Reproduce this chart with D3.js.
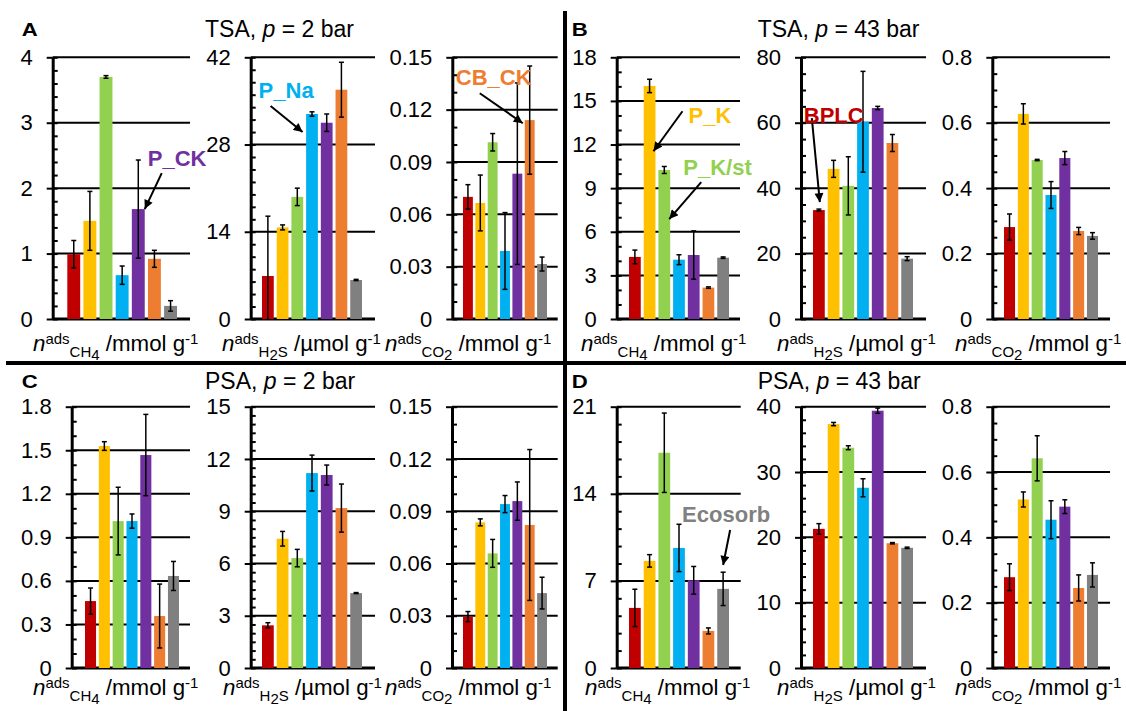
<!DOCTYPE html>
<html>
<head>
<meta charset="utf-8">
<script src="https://cdn.jsdelivr.net/npm/d3@7"></script>
<style>
  body { margin: 0; background: #fff; }
  svg { display: block; font-family: "Liberation Sans", Arial, sans-serif; }
  text { white-space: pre; }
</style>
</head>
<body>
<div id="chart"></div>
<script>
// ---- data ----
const materials = ["BPLC", "P_K", "P_K/st", "P_Na", "P_CK", "CB_CK", "Ecosorb"];
const colors = ["#c00000", "#ffc000", "#92d050", "#00b0f0", "#7030a0", "#ed7d31", "#808080"];

// TSA, p = 2 bar
const tsa2CH4 = [0.99, 1.50, 3.70, 0.67, 1.68, 0.92, 0.20];
const tsa2CH4Err = [0.21, 0.45, 0.02, 0.14, 0.75, 0.13, 0.08];
const tsa2H2S = [6.9, 14.7, 19.6, 32.9, 31.5, 36.8, 6.26];
const tsa2H2SErr = [9.6, 0.4, 1.4, 0.35, 1.4, 4.4, 0.1];
const tsa2CO2 = [0.070, 0.0665, 0.1013, 0.039, 0.0833, 0.114, 0.0315];
const tsa2CO2Err = [0.007, 0.016, 0.005, 0.022, 0.052, 0.031, 0.004];

// TSA, p = 43 bar
const tsa43CH4 = [4.27, 16.03, 10.25, 4.08, 4.40, 2.16, 4.22];
const tsa43CH4Err = [0.47, 0.46, 0.24, 0.34, 1.66, 0.05, 0.05];
const tsa43H2S = [33.3, 45.9, 40.7, 60.3, 64.5, 53.8, 18.45];
const tsa43H2SErr = [0.3, 2.6, 8.9, 15.4, 0.5, 2.6, 0.6];
const tsa43CO2 = [0.281, 0.627, 0.486, 0.379, 0.492, 0.269, 0.254];
const tsa43CO2Err = [0.04, 0.031, 0.002, 0.041, 0.02, 0.011, 0.01];

// PSA, p = 2 bar
const psa2CH4 = [0.461, 1.529, 1.012, 1.012, 1.467, 0.358, 0.634];
const psa2CH4Err = [0.09, 0.03, 0.233, 0.049, 0.28, 0.22, 0.1];
const psa2H2S = [2.45, 7.42, 6.31, 11.19, 11.08, 9.18, 4.30];
const psa2H2SErr = [0.15, 0.42, 0.5, 1.03, 0.57, 1.38, 0.03];
const psa2CO2 = [0.0295, 0.0836, 0.0658, 0.0941, 0.0958, 0.0821, 0.043];
const psa2CO2Err = [0.0029, 0.002, 0.008, 0.0049, 0.011, 0.0433, 0.0091];

// PSA, p = 43 bar
const psa43CH4 = [4.83, 8.61, 17.3, 9.65, 7.05, 2.98, 6.36];
const psa43CH4Err = [1.5, 0.5, 3.19, 1.9, 1.11, 0.24, 1.34];
const psa43H2S = [21.3, 37.34, 33.72, 27.59, 39.39, 19.1, 18.4];
const psa43H2SErr = [0.8, 0.25, 0.3, 1.38, 0.4, 0.1, 0.1];
const psa43CO2 = [0.278, 0.516, 0.642, 0.454, 0.494, 0.245, 0.285];
const psa43CO2Err = [0.041, 0.023, 0.069, 0.058, 0.021, 0.04, 0.037];

// y axes: [max, major step, minor step]
const tsa2Axes = [[4, 1, 0.2], [42, 14, 2], [0.15, 0.03, 0.01]];
const tsa43Axes = [[18, 3, 1], [80, 20, 5], [0.8, 0.2, 0.05]];
const psa2Axes = [[1.8, 0.3, 0.1], [15, 3, 0.5], [0.15, 0.03, 0.01]];
const psa43Axes = [[21, 7, 1.4], [40, 10, 2], [0.8, 0.2, 0.05]];

// ---- layout ----
const width = 1126, height = 711;
const font = 22, labelFont = 22.3, small = 15;
const rowY = {
  top: { y0: 319, y1: 57.3, labelY: 351, headY: 37 },
  bottom: { y0: 668, y1: 406.7, labelY: 695, headY: 389 }
};
// axisX, gridEnd, barStart, barEnd, labelX
const panels = [
  { id: "A1", row: "top", gas: "CH4", vals: tsa2CH4, errs: tsa2CH4Err, ax: tsa2Axes[0], pos: [52.7, 190, 67.3, 177, 33] },
  { id: "A2", row: "top", gas: "H2S", vals: tsa2H2S, errs: tsa2H2SErr, ax: tsa2Axes[1], pos: [250.7, 375, 262, 362, 222] },
  { id: "A3", row: "top", gas: "CO2", vals: tsa2CO2, errs: tsa2CO2Err, ax: tsa2Axes[2], pos: [452.3, 557.7, 463, 547, 385] },
  { id: "B1", row: "top", gas: "CH4", vals: tsa43CH4, errs: tsa43CH4Err, ax: tsa43Axes[0], pos: [616.7, 740, 629, 729, 581] },
  { id: "B2", row: "top", gas: "H2S", vals: tsa43H2S, errs: tsa43H2SErr, ax: tsa43Axes[1], pos: [801, 926, 813, 913, 777] },
  { id: "B3", row: "top", gas: "CO2", vals: tsa43CO2, errs: tsa43CO2Err, ax: tsa43Axes[2], pos: [992.3, 1110, 1004, 1098, 955] },
  { id: "C1", row: "bottom", gas: "CH4", vals: psa2CH4, errs: psa2CH4Err, ax: psa2Axes[0], pos: [71.7, 190, 85, 179, 33] },
  { id: "C2", row: "bottom", gas: "H2S", vals: psa2H2S, errs: psa2H2SErr, ax: psa2Axes[1], pos: [250.7, 375, 262, 362, 223] },
  { id: "C3", row: "bottom", gas: "CO2", vals: psa2CO2, errs: psa2CO2Err, ax: psa2Axes[2], pos: [452, 557.7, 463, 547, 385] },
  { id: "D1", row: "bottom", gas: "CH4", vals: psa43CH4, errs: psa43CH4Err, ax: psa43Axes[0], pos: [616.7, 740.7, 629, 729, 585] },
  { id: "D2", row: "bottom", gas: "H2S", vals: psa43H2S, errs: psa43H2SErr, ax: psa43Axes[1], pos: [801, 926, 813, 913, 777] },
  { id: "D3", row: "bottom", gas: "CO2", vals: psa43CO2, errs: psa43CO2Err, ax: psa43Axes[2], pos: [992.3, 1110, 1004, 1098, 955] }
];

const headers = [
  { letter: "A", x: 21.7, row: "top", x2: 205, pre: "TSA, ", post: " = 2 bar" },
  { letter: "B", x: 571.7, row: "top", x2: 757.7, pre: "TSA, ", post: " = 43 bar" },
  { letter: "C", x: 21.7, row: "bottom", x2: 205, pre: "PSA, ", post: " = 2 bar" },
  { letter: "D", x: 571.7, row: "bottom", x2: 757.7, pre: "PSA, ", post: " = 43 bar" }
];

// arrow head at bar (fx across band, value vy); tail and text offset from head
const notes = [
  { id: "A1", cat: "P_CK", fx: 1.0, vy: 1.68, tail: [17, -36], txt: [3, -43] },
  { id: "A2", cat: "P_Na", fx: -0.3, vy: 30, tail: [-32, -26], txt: [-44, -34] },
  { id: "A3", cat: "CB_CK", fx: -0.2, vy: 0.1122, tail: [-43, -30], txt: [-67, -38] },
  { id: "B1", cat: "P_K", fx: 0.83, vy: 11.54, tail: [29, -40], txt: [35, -28] },
  { id: "B1", cat: "P_K/st", fx: 0.92, vy: 6.87, tail: [32, -37], txt: [14, -44] },
  { id: "B2", cat: "BPLC", fx: 0.58, vy: 35.7, tail: [-8, -84], txt: [-16, -79] },
  { id: "D1", cat: "Ecosorb", fx: 0.5, vy: 8.28, tail: [7, -35], txt: [-41, -43] }
];

const gasParts = {
  CH4: [["CH", 5.5], ["4", 8.5]],
  H2S: [["H", 5.5], ["2", 8.5], ["S", 5.5]],
  CO2: [["CO", 5.5], ["2", 8.5]]
};
const gasUnit = { CH4: "mmol", H2S: "\u00b5mol", CO2: "mmol" };

const color = d3.scaleOrdinal().domain(materials).range(colors);
const fmt = d3.format("~g");

const svg = d3.select("#chart")
  .append("svg")
  .attr("width", width)
  .attr("height", height);

svg.append("defs").append("marker")
  .attr("id", "arrowhead")
  .attr("viewBox", "0 0 10 10")
  .attr("refX", 10)
  .attr("refY", 5)
  .attr("markerWidth", 11)
  .attr("markerHeight", 9)
  .attr("markerUnits", "userSpaceOnUse")
  .attr("orient", "auto")
  .append("path")
  .attr("d", "M0,0L10,5L0,10Z")
  .attr("fill", "#000");

const scales = {};

panels.forEach(p => {
  const r = rowY[p.row];
  const [axisX, gridEnd, barStart, barEnd, labelX] = p.pos;
  const [yMax, major, minor] = p.ax;

  const y = d3.scaleLinear().domain([0, yMax]).range([r.y0, r.y1]);
  const x = d3.scaleBand().domain(materials).range([barStart, barEnd])
    .paddingInner(0.2).paddingOuter(0);
  scales[p.id] = { x, y };

  const majors = d3.range(0, Math.round(yMax / major) + 1).map(i => +(i * major).toFixed(6));
  const minors = d3.range(0, Math.round(yMax / minor) + 1).map(i => +(i * minor).toFixed(6));

  const g = svg.append("g");

  // gridlines
  g.selectAll(".grid")
    .data(majors)
    .join("line")
    .attr("x1", axisX)
    .attr("x2", gridEnd)
    .attr("y1", d => y(d))
    .attr("y2", d => y(d))
    .attr("stroke", "#000")
    .attr("stroke-width", d => d === 0 ? 3 : 2);

  // bars
  const rows = materials.map((m, i) => ({ m, v: p.vals[i], e: p.errs[i] }));
  g.selectAll(".bar")
    .data(rows)
    .join("rect")
    .attr("x", d => x(d.m))
    .attr("width", x.bandwidth())
    .attr("y", d => y(d.v))
    .attr("height", d => y(0) - y(d.v))
    .attr("fill", d => color(d.m));

  // error bars
  const eb = g.selectAll(".err")
    .data(rows)
    .join("g")
    .attr("stroke", "#000")
    .attr("stroke-width", 1.5);
  const cx = d => x(d.m) + x.bandwidth() / 2;
  const lo = d => y(Math.max(0, d.v - d.e));
  const hi = d => y(d.v + d.e);
  eb.append("line").attr("x1", cx).attr("x2", cx).attr("y1", lo).attr("y2", hi);
  eb.append("line").attr("x1", d => cx(d) - 2.5).attr("x2", d => cx(d) + 2.5).attr("y1", hi).attr("y2", hi);
  eb.filter(d => d.v - d.e > 0)
    .append("line").attr("x1", d => cx(d) - 2.5).attr("x2", d => cx(d) + 2.5).attr("y1", lo).attr("y2", lo);

  // minor ticks (inside)
  const minorAxis = g.append("g")
    .attr("transform", `translate(${axisX},0)`)
    .call(d3.axisRight(y).tickValues(minors).tickSize(5).tickFormat(""));
  minorAxis.select(".domain").remove();
  minorAxis.selectAll("line").attr("stroke-width", 2);

  // major axis with labels
  const ya = g.append("g")
    .attr("transform", `translate(${axisX},0)`)
    .call(d3.axisLeft(y).tickValues(majors).tickSize(6).tickSizeOuter(0).tickPadding(14).tickFormat(fmt));
  ya.attr("font-size", font).attr("font-family", null);
  ya.select(".domain").attr("stroke-width", 3);
  ya.selectAll(".tick line").attr("stroke-width", 2);
  ya.selectAll("text").attr("fill", "#000");

  // x label
  const t = g.append("text")
    .attr("x", labelX)
    .attr("y", r.labelY)
    .attr("font-size", labelFont)
    .attr("fill", "#000");
  t.append("tspan").attr("font-style", "italic").text("n");
  t.append("tspan").attr("font-size", small).attr("dy", -7).text("ads");
  let cur = -7;
  gasParts[p.gas].forEach(([s, off]) => {
    t.append("tspan").attr("font-size", small).attr("dy", off - cur).text(s);
    cur = off;
  });
  t.append("tspan").attr("dy", -cur).text(" /" + gasUnit[p.gas] + " g");
  t.append("tspan").attr("font-size", small).attr("dy", -7).text("-1");
});

// panel letters and titles
headers.forEach(h => {
  const r = rowY[h.row];
  svg.append("text")
    .attr("x", h.x)
    .attr("y", r.headY - 1)
    .attr("font-size", 19)
    .attr("font-weight", "bold")
    .attr("textLength", 16)
    .attr("lengthAdjust", "spacingAndGlyphs")
    .text(h.letter);
  const tt = svg.append("text")
    .attr("x", h.x2)
    .attr("y", r.headY)
    .attr("font-size", 23);
  tt.append("tspan").text(h.pre);
  tt.append("tspan").attr("font-style", "italic").text("p");
  tt.append("tspan").text(h.post);
});

// annotations
notes.forEach(n => {
  const { x, y } = scales[n.id];
  const hx = x(n.cat) + x.bandwidth() * n.fx;
  const hy = y(n.vy);
  svg.append("line")
    .attr("x1", hx + n.tail[0])
    .attr("y1", hy + n.tail[1])
    .attr("x2", hx)
    .attr("y2", hy)
    .attr("stroke", "#000")
    .attr("stroke-width", 2)
    .attr("marker-end", "url(#arrowhead)");
  svg.append("text")
    .attr("x", hx + n.txt[0])
    .attr("y", hy + n.txt[1])
    .attr("font-size", font)
    .attr("font-weight", "bold")
    .attr("fill", color(n.cat))
    .text(n.cat);
});

// dividers
svg.append("line")
  .attr("x1", 6).attr("x2", width)
  .attr("y1", 363).attr("y2", 363)
  .attr("stroke", "#000").attr("stroke-width", 4);
svg.append("line")
  .attr("x1", 565).attr("x2", 565)
  .attr("y1", 11).attr("y2", height)
  .attr("stroke", "#000").attr("stroke-width", 4);
</script>
</body>
</html>
